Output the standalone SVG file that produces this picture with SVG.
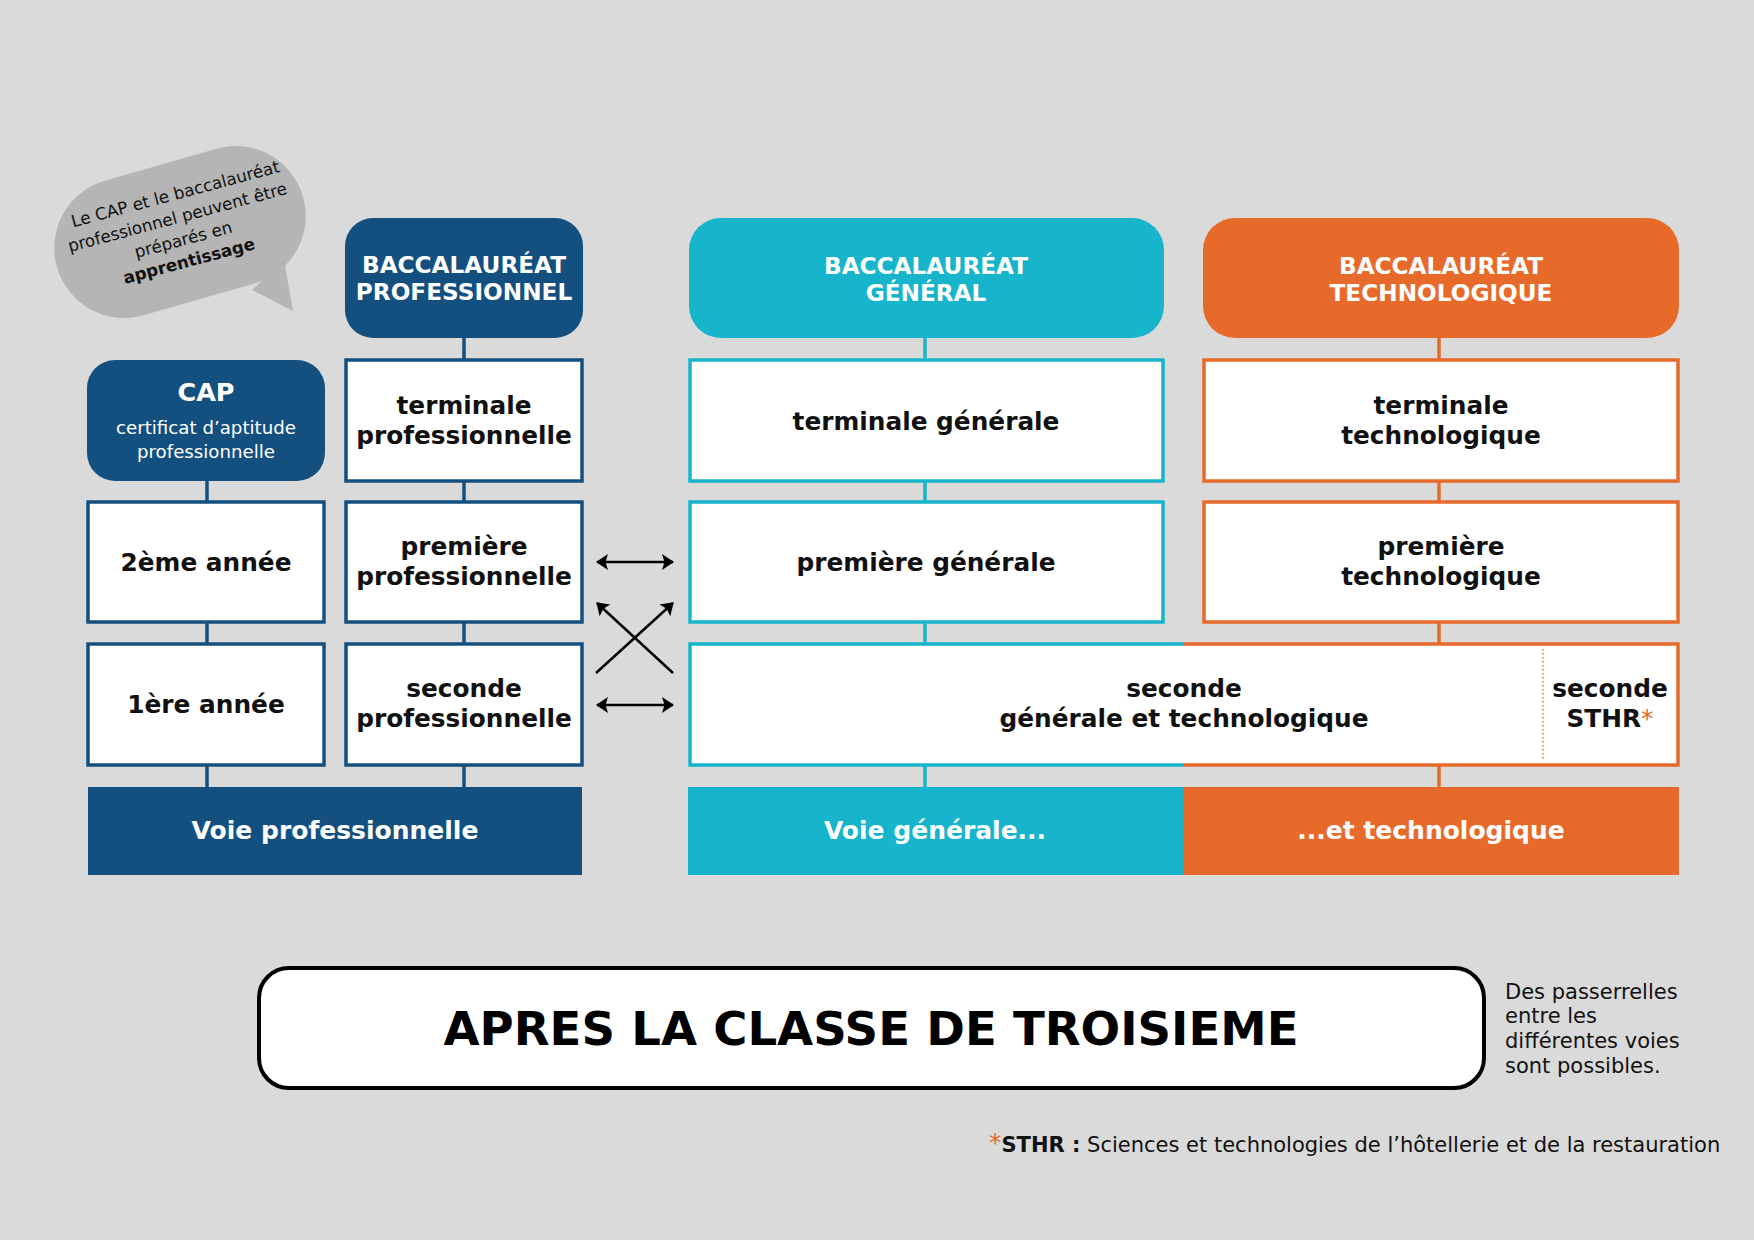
<svg xmlns="http://www.w3.org/2000/svg" width="1754" height="1240" viewBox="0 0 1754 1240">
<defs>
<style>
text{font-family:"DejaVu Sans",Verdana,sans-serif;}
.lbl{font-size:24.8px;font-weight:bold;fill:#111;text-anchor:middle}
.hd{font-size:23.2px;font-weight:bold;fill:#fff;text-anchor:middle}
.voie{font-size:25px;font-weight:bold;fill:#fff;text-anchor:middle}
.bp{fill:#fff;stroke:#14507F;stroke-width:3.5}
.bgn{fill:#fff;stroke:#16B5CB;stroke-width:3.5}
.btc{fill:#fff;stroke:#E86A2A;stroke-width:3.5}
.cp{stroke:#14507F;stroke-width:3.5}
.cg{stroke:#16B5CB;stroke-width:3.5}
.ct{stroke:#E86A2A;stroke-width:3.5}
.fp{fill:#14507F}
.fg{fill:#16B5CB}
.ft{fill:#E86A2A}
.arr{stroke:#000;stroke-width:2.5;fill:none}
.side{font-size:21px;fill:#111}
</style>
<marker id="ah" viewBox="0 0 12 16" refX="11" refY="8" markerWidth="12" markerHeight="16" markerUnits="userSpaceOnUse" orient="auto-start-reverse"><path d="M0,0 L12,8 L0,16 L2.5,8 Z" fill="#000"/></marker>
</defs>
<rect x="0" y="0" width="1754" height="1240" fill="#DADADA"/>

<g id="bubble">
<rect x="-128" y="-70" width="256" height="140" rx="70" fill="#B5B5B5" transform="translate(180,232) rotate(-16)"/>
<polygon points="252,290 293,311 284,260" fill="#B5B5B5"/>
<g transform="translate(180,235) rotate(-15)" font-size="16.8" fill="#111" text-anchor="middle">
<text x="6" y="-35">Le CAP et le baccalauréat</text>
<text x="2" y="-12">professionnel peuvent être</text>
<text x="2" y="11">préparés en</text>
<text x="2" y="33" font-weight="bold">apprentissage</text>
</g>
</g>

<g id="connectors">
<line class="cp" x1="207" y1="481" x2="207" y2="502"/>
<line class="cp" x1="207" y1="622" x2="207" y2="644"/>
<line class="cp" x1="207" y1="765" x2="207" y2="788"/>
<line class="cp" x1="464" y1="337" x2="464" y2="360"/>
<line class="cp" x1="464" y1="481" x2="464" y2="502"/>
<line class="cp" x1="464" y1="622" x2="464" y2="644"/>
<line class="cp" x1="464" y1="765" x2="464" y2="788"/>
<line class="cg" x1="925" y1="337" x2="925" y2="360"/>
<line class="cg" x1="925" y1="481" x2="925" y2="502"/>
<line class="cg" x1="925" y1="622" x2="925" y2="644"/>
<line class="cg" x1="925" y1="765" x2="925" y2="788"/>
<line class="ct" x1="1439" y1="337" x2="1439" y2="360"/>
<line class="ct" x1="1439" y1="481" x2="1439" y2="502"/>
<line class="ct" x1="1439" y1="622" x2="1439" y2="644"/>
<line class="ct" x1="1439" y1="765" x2="1439" y2="788"/>
<line class="arr" x1="597" y1="562" x2="673" y2="562" marker-start="url(#ah)" marker-end="url(#ah)"/>
<line class="arr" x1="597" y1="705" x2="673" y2="705" marker-start="url(#ah)" marker-end="url(#ah)"/>
<line class="arr" x1="596" y1="673" x2="673" y2="603" marker-end="url(#ah)"/>
<line class="arr" x1="673" y1="673" x2="597" y2="603" marker-end="url(#ah)"/>
</g>

<g id="cap">
<rect class="fp" x="87" y="360" width="238" height="121" rx="28"/>
<text x="206" y="401" font-size="25.5" font-weight="bold" fill="#fff" text-anchor="middle">CAP</text>
<text x="206" y="434" font-size="18.2" fill="#fff" text-anchor="middle">certificat d’aptitude</text>
<text x="206" y="458" font-size="18.2" fill="#fff" text-anchor="middle">professionnelle</text>
</g>
<g id="cap2">
<rect class="bp" x="88" y="502" width="236" height="120"/>
<text class="lbl" x="206" y="571">2ème année</text>
</g>
<g id="cap1">
<rect class="bp" x="88" y="644" width="236" height="121"/>
<text class="lbl" x="206" y="713">1ère année</text>
</g>

<g id="bacpro">
<rect class="fp" x="345" y="218" width="238" height="120" rx="28"/>
<text class="hd" x="464" y="273">BACCALAURÉAT</text>
<text class="hd" x="464" y="300">PROFESSIONNEL</text>
</g>
<g id="termpro">
<rect class="bp" x="346" y="360" width="236" height="121"/>
<text class="lbl" x="464" y="414">terminale</text>
<text class="lbl" x="464" y="444">professionnelle</text>
</g>
<g id="prempro">
<rect class="bp" x="346" y="502" width="236" height="120"/>
<text class="lbl" x="464" y="555">première</text>
<text class="lbl" x="464" y="585">professionnelle</text>
</g>
<g id="secpro">
<rect class="bp" x="346" y="644" width="236" height="121"/>
<text class="lbl" x="464" y="697">seconde</text>
<text class="lbl" x="464" y="727">professionnelle</text>
</g>

<g id="bacgen">
<rect class="fg" x="689" y="218" width="475" height="120" rx="32"/>
<text class="hd" x="926" y="274">BACCALAURÉAT</text>
<text class="hd" x="926" y="301">GÉNÉRAL</text>
</g>
<g id="termgen">
<rect class="bgn" x="690" y="360" width="473" height="121"/>
<text class="lbl" x="926" y="430">terminale générale</text>
</g>
<g id="premgen">
<rect class="bgn" x="690" y="502" width="473" height="120"/>
<text class="lbl" x="926" y="571">première générale</text>
</g>

<g id="bactech">
<rect class="ft" x="1203" y="218" width="476" height="120" rx="32"/>
<text class="hd" x="1441" y="274">BACCALAURÉAT</text>
<text class="hd" x="1441" y="301">TECHNOLOGIQUE</text>
</g>
<g id="termtech">
<rect class="btc" x="1204" y="360" width="474" height="121"/>
<text class="lbl" x="1441" y="414">terminale</text>
<text class="lbl" x="1441" y="444">technologique</text>
</g>
<g id="premtech">
<rect class="btc" x="1204" y="502" width="474" height="120"/>
<text class="lbl" x="1441" y="555">première</text>
<text class="lbl" x="1441" y="585">technologique</text>
</g>

<g id="secgt">
<rect x="690" y="644" width="988" height="121" fill="#fff"/>
<path d="M1184,644 H690 V765 H1184" fill="none" stroke="#16B5CB" stroke-width="3.5"/>
<path d="M1184,644 H1678 V765 H1184" fill="none" stroke="#E86A2A" stroke-width="3.5"/>
<line x1="1543" y1="649" x2="1543" y2="761" stroke="#E86A2A" stroke-width="1.5" stroke-dasharray="1.5 2.5"/>
<text class="lbl" x="1184" y="697">seconde</text>
<text class="lbl" x="1184" y="727">générale et technologique</text>
<text class="lbl" x="1610" y="697">seconde</text>
<text class="lbl" x="1610" y="727">STHR<tspan fill="#E86A2A" font-weight="normal">*</tspan></text>
</g>

<g id="voiepro">
<rect class="fp" x="88" y="787" width="494" height="88"/>
<text class="voie" x="335" y="839">Voie professionnelle</text>
</g>
<g id="voiegen">
<rect class="fg" x="688" y="787" width="496" height="88"/>
<text class="voie" x="935" y="839">Voie générale...</text>
</g>
<g id="voietech">
<rect class="ft" x="1184" y="787" width="495" height="88"/>
<text class="voie" x="1431" y="839">...et technologique</text>
</g>

<g id="title">
<rect x="259" y="968" width="1225" height="120" rx="30" fill="#fff" stroke="#000" stroke-width="4"/>
<text x="871" y="1045" font-size="46.6" font-weight="bold" fill="#000" text-anchor="middle">APRES LA CLASSE DE TROISIEME</text>
</g>

<g id="note">
<text class="side" x="1505" y="999">Des passerrelles</text>
<text class="side" x="1505" y="1023">entre les</text>
<text class="side" x="1505" y="1048">différentes voies</text>
<text class="side" x="1505" y="1073">sont possibles.</text>
</g>

<g id="footnote">
<text x="989" y="1152" font-size="21" fill="#111"><tspan fill="#E86A2A" font-size="25" dy="-1">*</tspan><tspan font-weight="bold" dy="1">STHR :</tspan> Sciences et technologies de l’hôtellerie et de la restauration</text>
</g>
</svg>
